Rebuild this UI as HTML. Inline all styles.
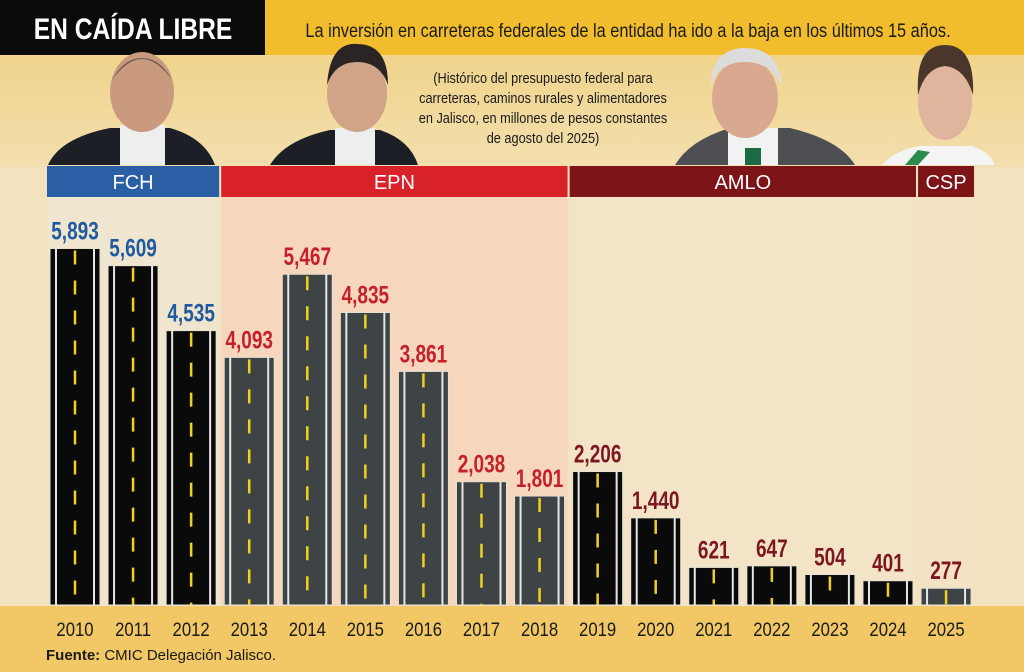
<!DOCTYPE html>
<html><head><meta charset="utf-8"><style>
body{margin:0;width:1024px;height:672px;overflow:hidden;font-family:"Liberation Sans",sans-serif;}
svg{display:block}
</style></head><body>
<svg id="c" width="1024" height="672" viewBox="0 0 1024 672">
<defs>
<linearGradient id="bg" x1="0" y1="0" x2="0" y2="1"><stop offset="0" stop-color="#f0d48c"/><stop offset="1" stop-color="#f3dfae"/></linearGradient>
</defs>
<rect x="0" y="0" width="1024" height="672" fill="#f2e2bd"/>
<rect x="0" y="55" width="1024" height="112" fill="url(#bg)"/>
<rect x="265" y="0" width="759" height="55" fill="#f1bd2c"/>
<rect x="0" y="0" width="265" height="55" fill="#0b0b0b"/>
<text x="133" y="39" text-anchor="middle" fill="#fff" font-size="30" font-weight="bold" transform="translate(133 0) scale(0.82 1) translate(-133 0)">EN CAÍDA LIBRE</text>
<text x="628" y="37" text-anchor="middle" fill="#1a1a1a" font-size="19" transform="translate(628 0) scale(0.86 1) translate(-628 0)">La inversión en carreteras federales de la entidad ha ido a la baja en los últimos 15 años.</text>
<g font-size="15" fill="#1a1a1a" text-anchor="middle" transform="translate(543 0) scale(0.85 1) translate(-543 0)">
<text x="543" y="83">(Histórico del presupuesto federal para</text>
<text x="543" y="103">carreteras, caminos rurales y alimentadores</text>
<text x="543" y="123">en Jalisco, en millones de pesos constantes</text>
<text x="543" y="143">de agosto del 2025)</text>
</g>
<g><path d="M48 165 Q60 138 110 128 L170 128 Q205 138 215 165Z" fill="#1c1f25"/><rect x="120" y="125" width="45" height="40" fill="#eee"/><ellipse cx="142" cy="92" rx="32" ry="40" fill="#c99a7e"/><path d="M112 80 Q142 38 172 80 Q160 58 142 58 Q124 58 112 80Z" fill="#6a5b50"/></g>
<g><path d="M270 165 Q285 140 330 130 L380 130 Q410 140 418 165Z" fill="#1c1f25"/><rect x="335" y="128" width="40" height="37" fill="#eee"/><ellipse cx="357" cy="94" rx="30" ry="38" fill="#d1a488"/><path d="M327 85 Q330 42 357 44 Q388 44 388 85 Q380 62 357 62 Q335 62 327 85Z" fill="#2a2524"/></g>
<g><path d="M675 165 Q690 140 730 128 L790 128 Q840 140 855 165Z" fill="#4d4f52"/><rect x="728" y="128" width="50" height="37" fill="#f2f2f2"/><rect x="745" y="148" width="16" height="17" fill="#1b6b45"/><ellipse cx="745" cy="98" rx="33" ry="40" fill="#d9a98f"/><path d="M710 88 Q712 48 745 48 Q780 48 782 88 Q772 62 745 62 Q718 62 710 88Z" fill="#dcdcdc"/></g>
<g><path d="M882 165 Q895 150 920 146 L972 146 Q990 152 995 165Z" fill="#f4f4f4"/><path d="M905 165 L918 150 L930 152 L918 165Z" fill="#2e8b4e"/><ellipse cx="945" cy="102" rx="27" ry="38" fill="#dfb59d"/><path d="M918 95 Q915 45 945 45 Q975 45 973 95 Q965 68 945 66 Q925 68 918 95Z" fill="#4b362c"/></g>
<g id="panels"></g>
<rect x="0" y="606" width="1024" height="66" fill="#f1c865"/>
<g id="bars"></g>
<text x="46" y="660" font-size="15" fill="#1a1a1a"><tspan font-weight="bold">Fuente:</tspan> CMIC Delegación Jalisco.</text>
</svg>
<script>
const years=["2010","2011","2012","2013","2014","2015","2016","2017","2018","2019","2020","2021","2022","2023","2024","2025"];
const values=[5893,5609,4535,4093,5467,4835,3861,2038,1801,2206,1440,621,647,504,401,277];
const valueLabels=["5,893","5,609","4,535","4,093","5,467","4,835","3,861","2,038","1,801","2,206","1,440","621","647","504","401","277"];
const periods=["FCH","EPN","AMLO","CSP"];
const periodStart=[0,3,9,15];
const periodEnd=[2,8,14,15];
const NS="http://www.w3.org/2000/svg";
const base=605, scale=0.0605, x0=75, step=58.07, bw=50;
const xc=i=>x0+i*step;
const y=v=>base-v*scale;
function mk(t,a,p){const e=document.createElementNS(NS,t);for(const k in a)e.setAttribute(k,a[k]);p.appendChild(e);return e;}
const periodOf=i=>{for(let p=0;p<periods.length;p++)if(i>=periodStart[p]&&i<=periodEnd[p])return p;};
const panelFill=["#f0e6cf","#f6d7bd","#f3e4c8","#f3e2c4"];
const headFill=["#2a5fa6","#d82128","#7c1418","#7c1418"];
const barFill=["#0a0a0a","#3e4446","#0a0a0a","#3e4446"];
const labFill=["#1f5aa0","#c51f2a","#7c1620","#7c1620"];
const pg=document.getElementById('panels'), bg=document.getElementById('bars');
periods.forEach((p,k)=>{
  const l=xc(periodStart[k])-bw/2-3, r=xc(periodEnd[k])+bw/2+3;
  const pr=mk('rect',{x:l,y:197,width:r-l,height:409,fill:panelFill[k]},pg);
  
  
  const h=mk('rect',{x:l,y:166,width:r-l,height:31,fill:headFill[k]},pg);
  
  
  const t=mk('text',{x:(l+r)/2,y:189,'text-anchor':'middle',fill:'#fff','font-size':20},pg);
  t.textContent=p;
  
  
});
years.forEach((yr,i)=>{
  const k=periodOf(i), cx=xc(i), top=y(values[i]);
  const g=mk('g',{},bg);
  
  
  mk('rect',{x:cx-bw/2,y:top,width:bw,height:base-top,fill:barFill[k],stroke:'#e8e2d0','stroke-width':1},g);
  mk('line',{x1:cx-bw/2+6,y1:top,x2:cx-bw/2+6,y2:base,stroke:'#e6e6e6','stroke-width':2},g);
  mk('line',{x1:cx+bw/2-6,y1:top,x2:cx+bw/2-6,y2:base,stroke:'#e6e6e6','stroke-width':2},g);
  mk('line',{x1:cx,y1:top+2,x2:cx,y2:base,stroke:'#f0d020','stroke-width':2.5,'stroke-dasharray':'14 16'},g);
  const v=mk('text',{x:cx,y:top-9,'text-anchor':'middle',fill:labFill[k],'font-size':25,'font-weight':'bold',transform:`translate(${cx} 0) scale(0.76 1) translate(${-cx} 0)`},bg);
  v.textContent=valueLabels[i];
  
  
  const t=mk('text',{x:cx,y:636,'text-anchor':'middle',fill:'#1a1a1a','font-size':19,transform:`translate(${cx} 0) scale(0.88 1) translate(${-cx} 0)`},bg);
  t.textContent=yr;
  
  
});
</script>
</body></html>
